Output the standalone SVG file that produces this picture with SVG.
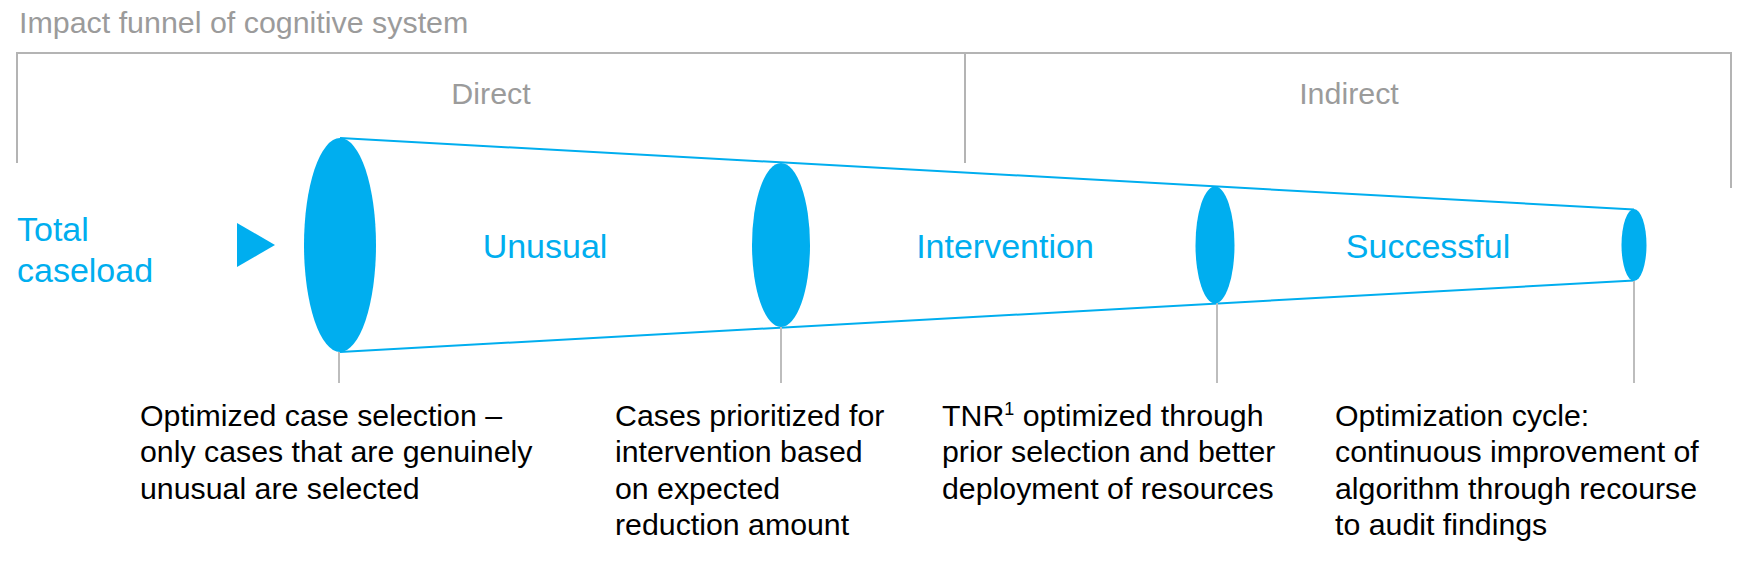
<svg xmlns="http://www.w3.org/2000/svg" width="1752" height="575" viewBox="0 0 1752 575">
<style>
.gray{font-family:"Liberation Sans",Arial,sans-serif;font-size:30.4px;fill:#9b9b9b}
.blue{font-family:"Liberation Sans",Arial,sans-serif;font-size:34px;fill:#00aeef}
.desc{font-family:"Liberation Sans",Arial,sans-serif;font-size:30.3px;fill:#000}
.frame{fill:none;stroke:#b4b4b4;stroke-width:2}
.tick{stroke:#bdbdbd;stroke-width:2}
.ell{fill:#00aeef}
.edge{stroke:#00aeef;stroke-width:2;fill:none}
</style>
<rect width="1752" height="575" fill="#fff"/>
<text class="gray" x="19" y="33">Impact funnel of cognitive system</text>
<g id="frame">
<polyline class="frame" points="17,163 17,53 1731,53 1731,188"/>
<line class="frame" x1="965" y1="53" x2="965" y2="163"/>
<text class="gray" x="491" y="104" text-anchor="middle">Direct</text>
<text class="gray" x="1349" y="104" text-anchor="middle">Indirect</text>
</g>
<g id="total">
<text class="blue" x="17" y="241">Total</text>
<text class="blue" x="17" y="282">caseload</text>
<polygon class="ell" points="237,223 275,245 237,267"/>
</g>
<g id="connectors">
<line class="edge" x1="340" y1="138" x2="1634" y2="209.5"/>
<line class="edge" x1="340" y1="352" x2="1634" y2="280.5"/>
<line class="tick" x1="339" y1="352" x2="339" y2="383"/>
<line class="tick" x1="781" y1="327" x2="781" y2="383"/>
<line class="tick" x1="1217" y1="303" x2="1217" y2="383"/>
<line class="tick" x1="1634" y1="281" x2="1634" y2="383"/>
</g>
<g id="stage1">
<ellipse class="ell" cx="340" cy="245" rx="36" ry="107"/>
<text class="blue" x="545" y="257.5" text-anchor="middle">Unusual</text>
</g>
<g id="stage2">
<ellipse class="ell" cx="781" cy="245" rx="29" ry="82"/>
<text class="blue" x="1005" y="257.5" text-anchor="middle">Intervention</text>
</g>
<g id="stage3">
<ellipse class="ell" cx="1215" cy="245" rx="19.5" ry="58.5"/>
<text class="blue" x="1428" y="257.5" text-anchor="middle">Successful</text>
</g>
<g id="stage4">
<ellipse class="ell" cx="1634" cy="245" rx="12.5" ry="36"/>
</g>
<g id="desc1">
<text class="desc" x="140" y="425.5">Optimized case selection –</text>
<text class="desc" x="140" y="462">only cases that are genuinely</text>
<text class="desc" x="140" y="498.5">unusual are selected</text>
</g>
<g id="desc2">
<text class="desc" x="615" y="425.5">Cases prioritized for</text>
<text class="desc" x="615" y="462">intervention based</text>
<text class="desc" x="615" y="498.5">on expected</text>
<text class="desc" x="615" y="535">reduction amount</text>
</g>
<g id="desc3">
<text class="desc" x="942" y="425.5">TNR<tspan font-size="18" dy="-11">1</tspan><tspan dy="11"> optimized through</tspan></text>
<text class="desc" x="942" y="462">prior selection and better</text>
<text class="desc" x="942" y="498.5">deployment of resources</text>
</g>
<g id="desc4">
<text class="desc" x="1335" y="425.5">Optimization cycle:</text>
<text class="desc" x="1335" y="462">continuous improvement of</text>
<text class="desc" x="1335" y="498.5">algorithm through recourse</text>
<text class="desc" x="1335" y="535">to audit findings</text>
</g>
</svg>
